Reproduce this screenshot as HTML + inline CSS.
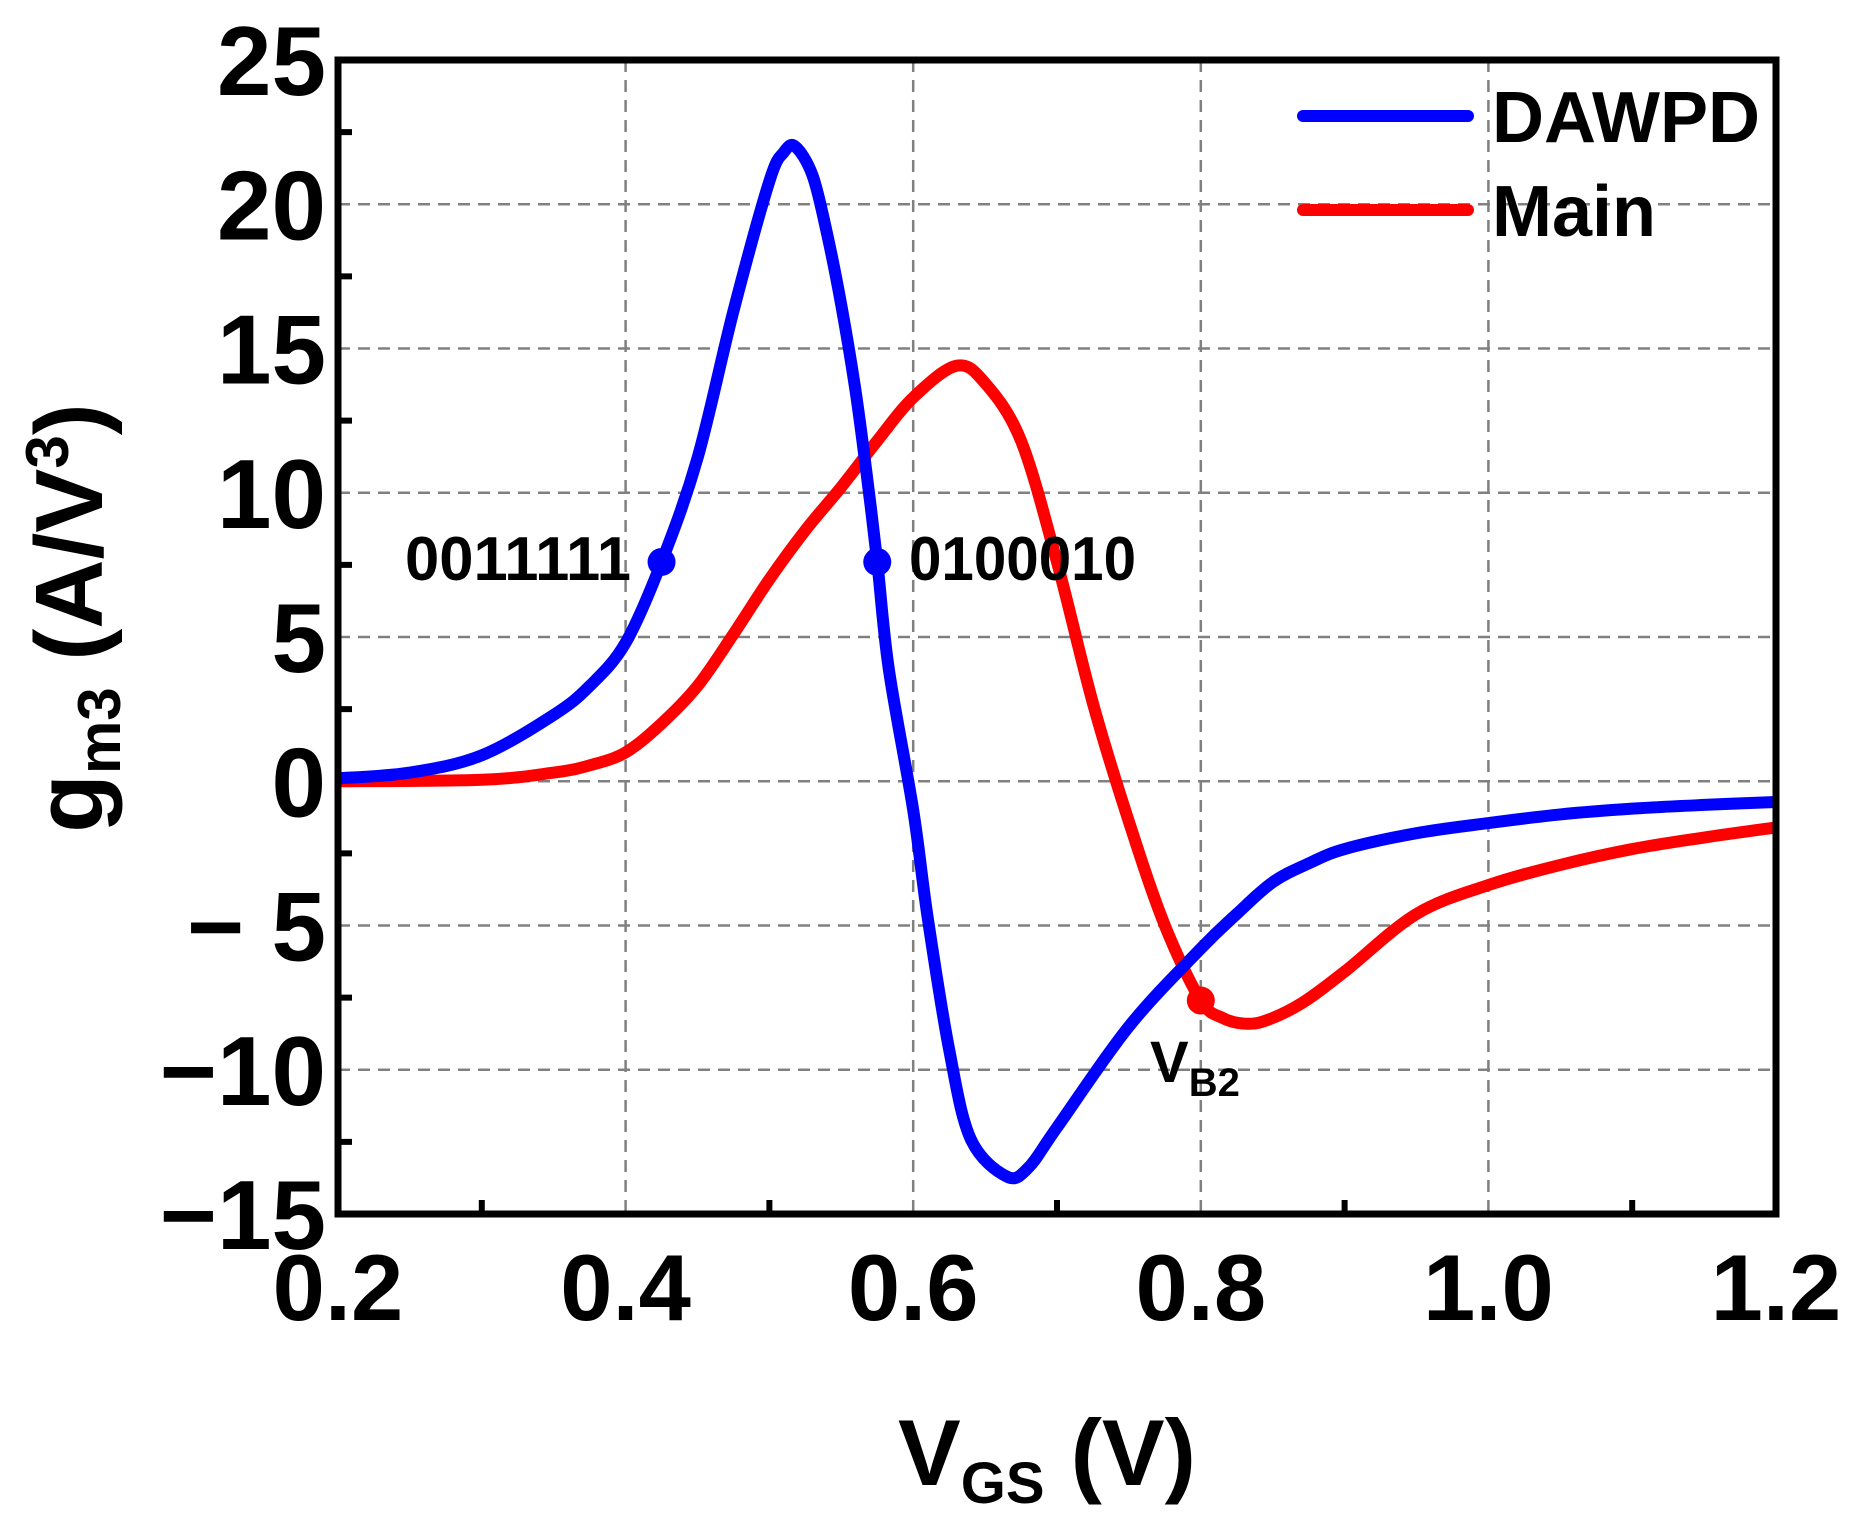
<!DOCTYPE html>
<html><head><meta charset="utf-8"><style>
html,body{margin:0;padding:0;background:#fff;}
svg{display:block;font-family:"Liberation Sans",Arial,sans-serif;font-weight:bold;}
</style></head><body>
<svg id="chart" width="1868" height="1518" viewBox="0 0 1868 1518" xmlns="http://www.w3.org/2000/svg">
<g id="grid"></g>
<g id="ticks"></g>
<g id="series"></g>
<rect x="338" y="60" width="1438" height="1154" fill="none" stroke="#000" stroke-width="7"/>
<g id="labels"></g>
<g>
  <line x1="1303" y1="116" x2="1468" y2="116" stroke="#0000ff" stroke-width="12" stroke-linecap="round"/>
  <text x="1492" y="142" font-size="72">DAWPD</text>
  <line x1="1303" y1="210" x2="1468" y2="210" stroke="#ff0000" stroke-width="12" stroke-linecap="round"/>
  <text x="1492" y="236" font-size="72">Main</text>
</g>
<text x="405" y="580" font-size="62" textLength="226" lengthAdjust="spacingAndGlyphs">0011111</text>
<text x="909" y="580" font-size="62" textLength="227" lengthAdjust="spacingAndGlyphs">0100010</text>
<text x="1150" y="1082" font-size="58">V<tspan font-size="40" dy="14">B2</tspan></text>
<text x="898" y="1485" font-size="94">V<tspan font-size="58" dy="18">GS</tspan><tspan dy="-18"> (V)</tspan></text>
<text transform="translate(102,618) rotate(-90)" text-anchor="middle" font-size="96">g<tspan font-size="60" dy="18">m3</tspan><tspan dy="-18"> (A/V</tspan><tspan font-size="60" dy="-34">3</tspan><tspan dy="34">)</tspan></text>
</svg>
<script>
const xTicks=[0.2,0.4,0.6,0.8,1.0,1.2];
const xTickLabels=["0.2","0.4","0.6","0.8","1.0","1.2"];
const yTicks=[25,20,15,10,5,0,-5,-10,-15];
const yTickLabels=["25","20","15","10","5","0","\u2212 5","\u221210","\u221215"];
const vgs=[0.2,0.25,0.3,0.35,0.375,0.4,0.425,0.45,0.475,0.5,0.51,0.518,0.53,0.54,0.55,0.56,0.568,0.575,0.583,0.6,0.61,0.625,0.64,0.665,0.68,0.7,0.75,0.8,0.825,0.85,0.875,0.9,0.95,1.0,1.05,1.1,1.15,1.2];
const dawpd=[0.1,0.3,0.9,2.3,3.3,4.8,7.6,11.2,16.3,20.8,21.8,22.0,21.0,19.0,16.5,13.5,10.5,7.6,3.9,-1.0,-4.7,-9.3,-12.4,-13.7,-13.4,-12.0,-8.5,-5.8,-4.6,-3.5,-2.85,-2.35,-1.8,-1.45,-1.15,-0.95,-0.82,-0.72];
const vgsMain=[0.2,0.3,0.35,0.375,0.4,0.425,0.45,0.475,0.5,0.525,0.55,0.575,0.6,0.63,0.65,0.675,0.7,0.725,0.75,0.775,0.8,0.815,0.83,0.845,0.87,0.9,0.95,1.0,1.05,1.1,1.15,1.2];
const mainVals=[0,0.05,0.3,0.55,1.0,2.0,3.3,5.1,7.0,8.7,10.2,11.8,13.3,14.4,13.8,11.8,7.6,2.7,-1.4,-5.0,-7.6,-8.2,-8.4,-8.3,-7.7,-6.6,-4.6,-3.6,-2.9,-2.35,-1.95,-1.6];
const markersDawpd=[[0.425,7.6],[0.575,7.6]];
const markersMain=[[0.8,-7.6]];
const NS="http://www.w3.org/2000/svg";
const X0=338,X1=1776,Y0=60,Y1=1214;
const sx=v=>X0+(v-0.2)/(1.0)*(X1-X0);
const sy=v=>Y1-(v+15)/40*(Y1-Y0);
function mk(tag,attrs,parent){const e=document.createElementNS(NS,tag);for(const k in attrs)e.setAttribute(k,attrs[k]);parent.appendChild(e);return e;}
const grid=document.getElementById('grid'),ticks=document.getElementById('ticks'),series=document.getElementById('series'),labels=document.getElementById('labels');
xTicks.forEach((t,i)=>{
  if(i>0&&i<xTicks.length-1){const g=mk('line',{x1:sx(t),x2:sx(t),y1:Y0,y2:Y1,stroke:'#808080','stroke-width':2.5,'stroke-dasharray':'12 8'},grid);
  
  }
  const tx=mk('text',{x:sx(t),y:1320,'text-anchor':'middle','font-size':94},labels);
  
  
  tx.textContent=xTickLabels[i];
});
for(let v=0.3;v<1.2;v+=0.2){const m=mk('line',{x1:sx(v),x2:sx(v),y1:Y1,y2:Y1-14,stroke:'#000','stroke-width':6},ticks);
  
  }
yTicks.forEach((t,i)=>{
  if(i>0&&i<yTicks.length-1){const g=mk('line',{x1:X0,x2:X1,y1:sy(t),y2:sy(t),stroke:'#808080','stroke-width':2.5,'stroke-dasharray':'12 8'},grid);
  
  }
  const tx=mk('text',{x:326,y:sy(t)+35,'text-anchor':'end','font-size':98},labels);
  
  
  tx.textContent=yTickLabels[i];
});
for(let v=-12.5;v<25;v+=5){const m=mk('line',{x1:X0,x2:X0+14,y1:sy(v),y2:sy(v),stroke:'#000','stroke-width':6},ticks);
  
  }
function pathFor(xs,ys){const p=xs.map((x,i)=>[sx(x),sy(ys[i])]);let d='M'+p[0][0]+','+p[0][1];
  for(let i=0;i<p.length-1;i++){const a=p[Math.max(0,i-1)],b=p[i],c=p[i+1],e=p[Math.min(p.length-1,i+2)];
    const c1=[b[0]+(c[0]-a[0])/6,b[1]+(c[1]-a[1])/6],c2=[c[0]-(e[0]-b[0])/6,c[1]-(e[1]-b[1])/6];
    d+=' C'+c1[0]+','+c1[1]+' '+c2[0]+','+c2[1]+' '+c[0]+','+c[1];}
  return d;}
const pm=mk('path',{d:pathFor(vgsMain,mainVals),fill:'none',stroke:'#ff0000','stroke-width':12,'stroke-linejoin':'round'},series);


const pd=mk('path',{d:pathFor(vgs,dawpd),fill:'none',stroke:'#0000ff','stroke-width':12,'stroke-linejoin':'round'},series);


markersDawpd.forEach(m=>{const c=mk('circle',{cx:sx(m[0]),cy:sy(m[1]),r:14,fill:'#0000ff'},series);
  
  });
markersMain.forEach(m=>{const c=mk('circle',{cx:sx(m[0]),cy:sy(m[1]),r:14,fill:'#ff0000'},series);
  
  });
</script>
</body></html>
